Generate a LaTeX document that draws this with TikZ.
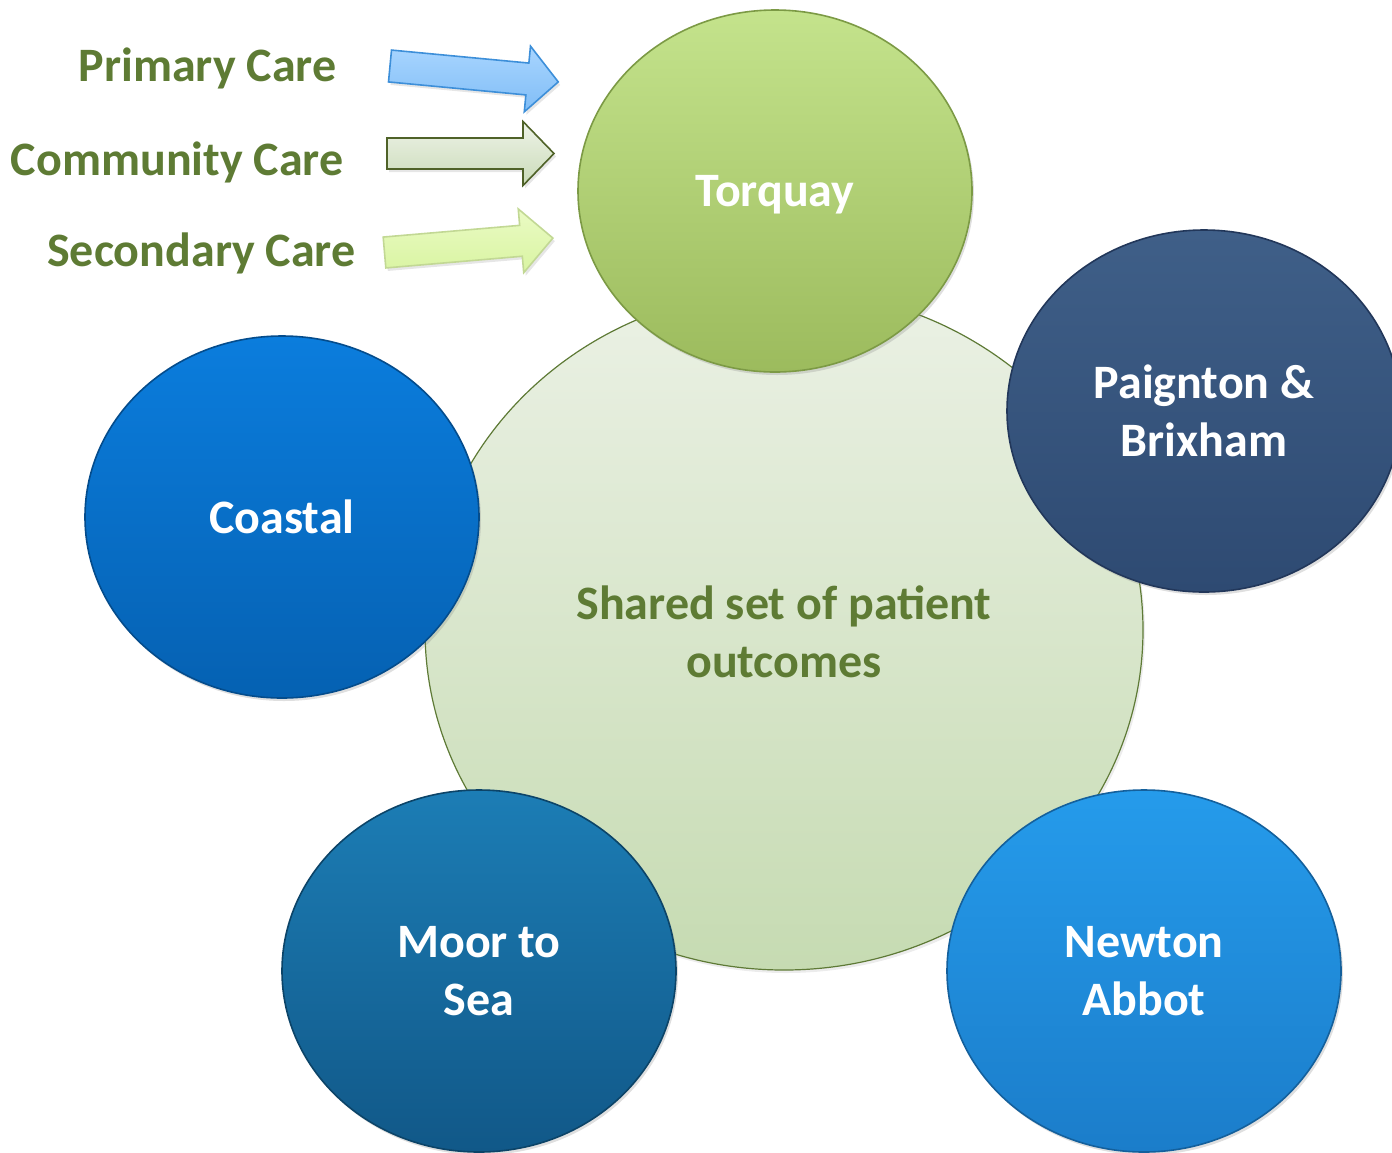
\documentclass[tikz,border=0pt]{standalone}
\usepackage{fontspec}
\setmainfont{Carlito}
\usetikzlibrary{shapes.geometric,shadows}
\definecolor{txtgreen}{HTML}{5E7B34}
\definecolor{hubtop}{HTML}{EBF1E5}
\definecolor{hubbot}{HTML}{C6DBB2}
\definecolor{hubline}{HTML}{5E7A36}
\definecolor{torqtop}{HTML}{C4E38C}
\definecolor{torqbot}{HTML}{9CBB5D}
\definecolor{torqline}{HTML}{7C9A45}
\definecolor{paigtop}{HTML}{3F5F88}
\definecolor{paigbot}{HTML}{2E4A72}
\definecolor{paigline}{HTML}{22375A}
\definecolor{coasttop}{HTML}{0B7DDD}
\definecolor{coastbot}{HTML}{0561B2}
\definecolor{coastline}{HTML}{044C8C}
\definecolor{moortop}{HTML}{1C7DB5}
\definecolor{moorbot}{HTML}{115888}
\definecolor{moorline}{HTML}{0C4468}
\definecolor{newttop}{HTML}{259BEB}
\definecolor{newtbot}{HTML}{1B7DCA}
\definecolor{newtline}{HTML}{14609C}
\definecolor{ablue}{HTML}{A8D5FF}
\definecolor{abluebot}{HTML}{80BDF6}
\definecolor{abluel}{HTML}{3D8FD9}
\definecolor{agreen}{HTML}{EEF3E8}
\definecolor{agreenbot}{HTML}{CADBB8}
\definecolor{agreenl}{HTML}{4F6228}
\definecolor{ayel}{HTML}{EAFBC4}
\definecolor{ayelbot}{HTML}{D9F4A2}
\definecolor{ayell}{HTML}{C2D894}
\begin{document}
\begin{tikzpicture}[x=0.5pt,y=-0.5pt,
  bigfont/.style={font=\bfseries\fontsize{24}{28.8}\selectfont},
  lbl/.style={bigfont, text=txtgreen, inner sep=0pt, anchor=base east},
  hub/.style={ellipse, minimum width=359pt, minimum height=340pt, inner sep=0pt, draw=hubline, line width=0.6pt,
    top color=hubtop, bottom color=hubbot,
    drop shadow={opacity=0.15, shadow xshift=1pt, shadow yshift=-1.5pt}},
  hubtext/.style={bigfont, text=txtgreen, align=center, inner sep=0pt},
  spoke/.style={ellipse, minimum width=197pt, minimum height=181pt, inner sep=0pt,
    bigfont, text=white, align=center, line width=0.8pt,
    drop shadow={opacity=0.25, shadow xshift=1pt, shadow yshift=-1.5pt}},
  bigarrow/.style={line width=0.8pt, line join=miter,
    drop shadow={opacity=0.2, shadow xshift=1pt, shadow yshift=-1.5pt}}
]
\useasboundingbox (0,0) rectangle (1392,1152);
\clip (0,0) rectangle (1392,1152);

% labels
\node[lbl] (primary) at (337,81) {Primary Care};
\node[lbl] (community) at (344,175) {Community Care};
\node[lbl] (secondary) at (356,266) {Secondary Care};

% arrows
\begin{scope}[shift={(390,66)}, rotate=-5.4]
  \draw[bigarrow, draw=abluel, top color=ablue, bottom color=abluebot]
    (0,-16) -- (138,-16) -- (138,-33) -- (169,0) -- (138,33) -- (138,16) -- (0,16) -- cycle;
\end{scope}
\begin{scope}[shift={(387,153.5)}]
  \draw[bigarrow, draw=agreenl, top color=agreen, bottom color=agreenbot]
    (0,-15.5) -- (136,-15.5) -- (136,-32) -- (167,0) -- (136,32) -- (136,15.5) -- (0,15.5) -- cycle;
\end{scope}
\begin{scope}[shift={(384.5,252.5)}, rotate=4.9]
  \draw[bigarrow, draw=ayell, top color=ayel, bottom color=ayelbot]
    (0,-15.5) -- (137,-15.5) -- (137,-32) -- (169,0) -- (137,32) -- (137,15.5) -- (0,15.5) -- cycle;
\end{scope}

% hub
\node[hub] (hub) at (784,630) {};
\node[hubtext] (hubtxt) at (784,632) {Shared set of patient\\outcomes};

% spokes
\node[spoke, draw=torqline, top color=torqtop, bottom color=torqbot, text depth=0pt] (torquay) at (775,191) {Torquay};
\node[spoke, draw=paigline, top color=paigtop, bottom color=paigbot] (paignton) at (1204,411) {Paignton \&\\Brixham};
\node[spoke, draw=coastline, top color=coasttop, bottom color=coastbot] (coastal) at (282,517) {Coastal};
\node[spoke, draw=moorline, top color=moortop, bottom color=moorbot] (moor) at (479,971) {Moor to\\Sea};
\node[spoke, draw=newtline, top color=newttop, bottom color=newtbot] (newton) at (1144,971) {Newton\\Abbot};
\end{tikzpicture}
\end{document}
